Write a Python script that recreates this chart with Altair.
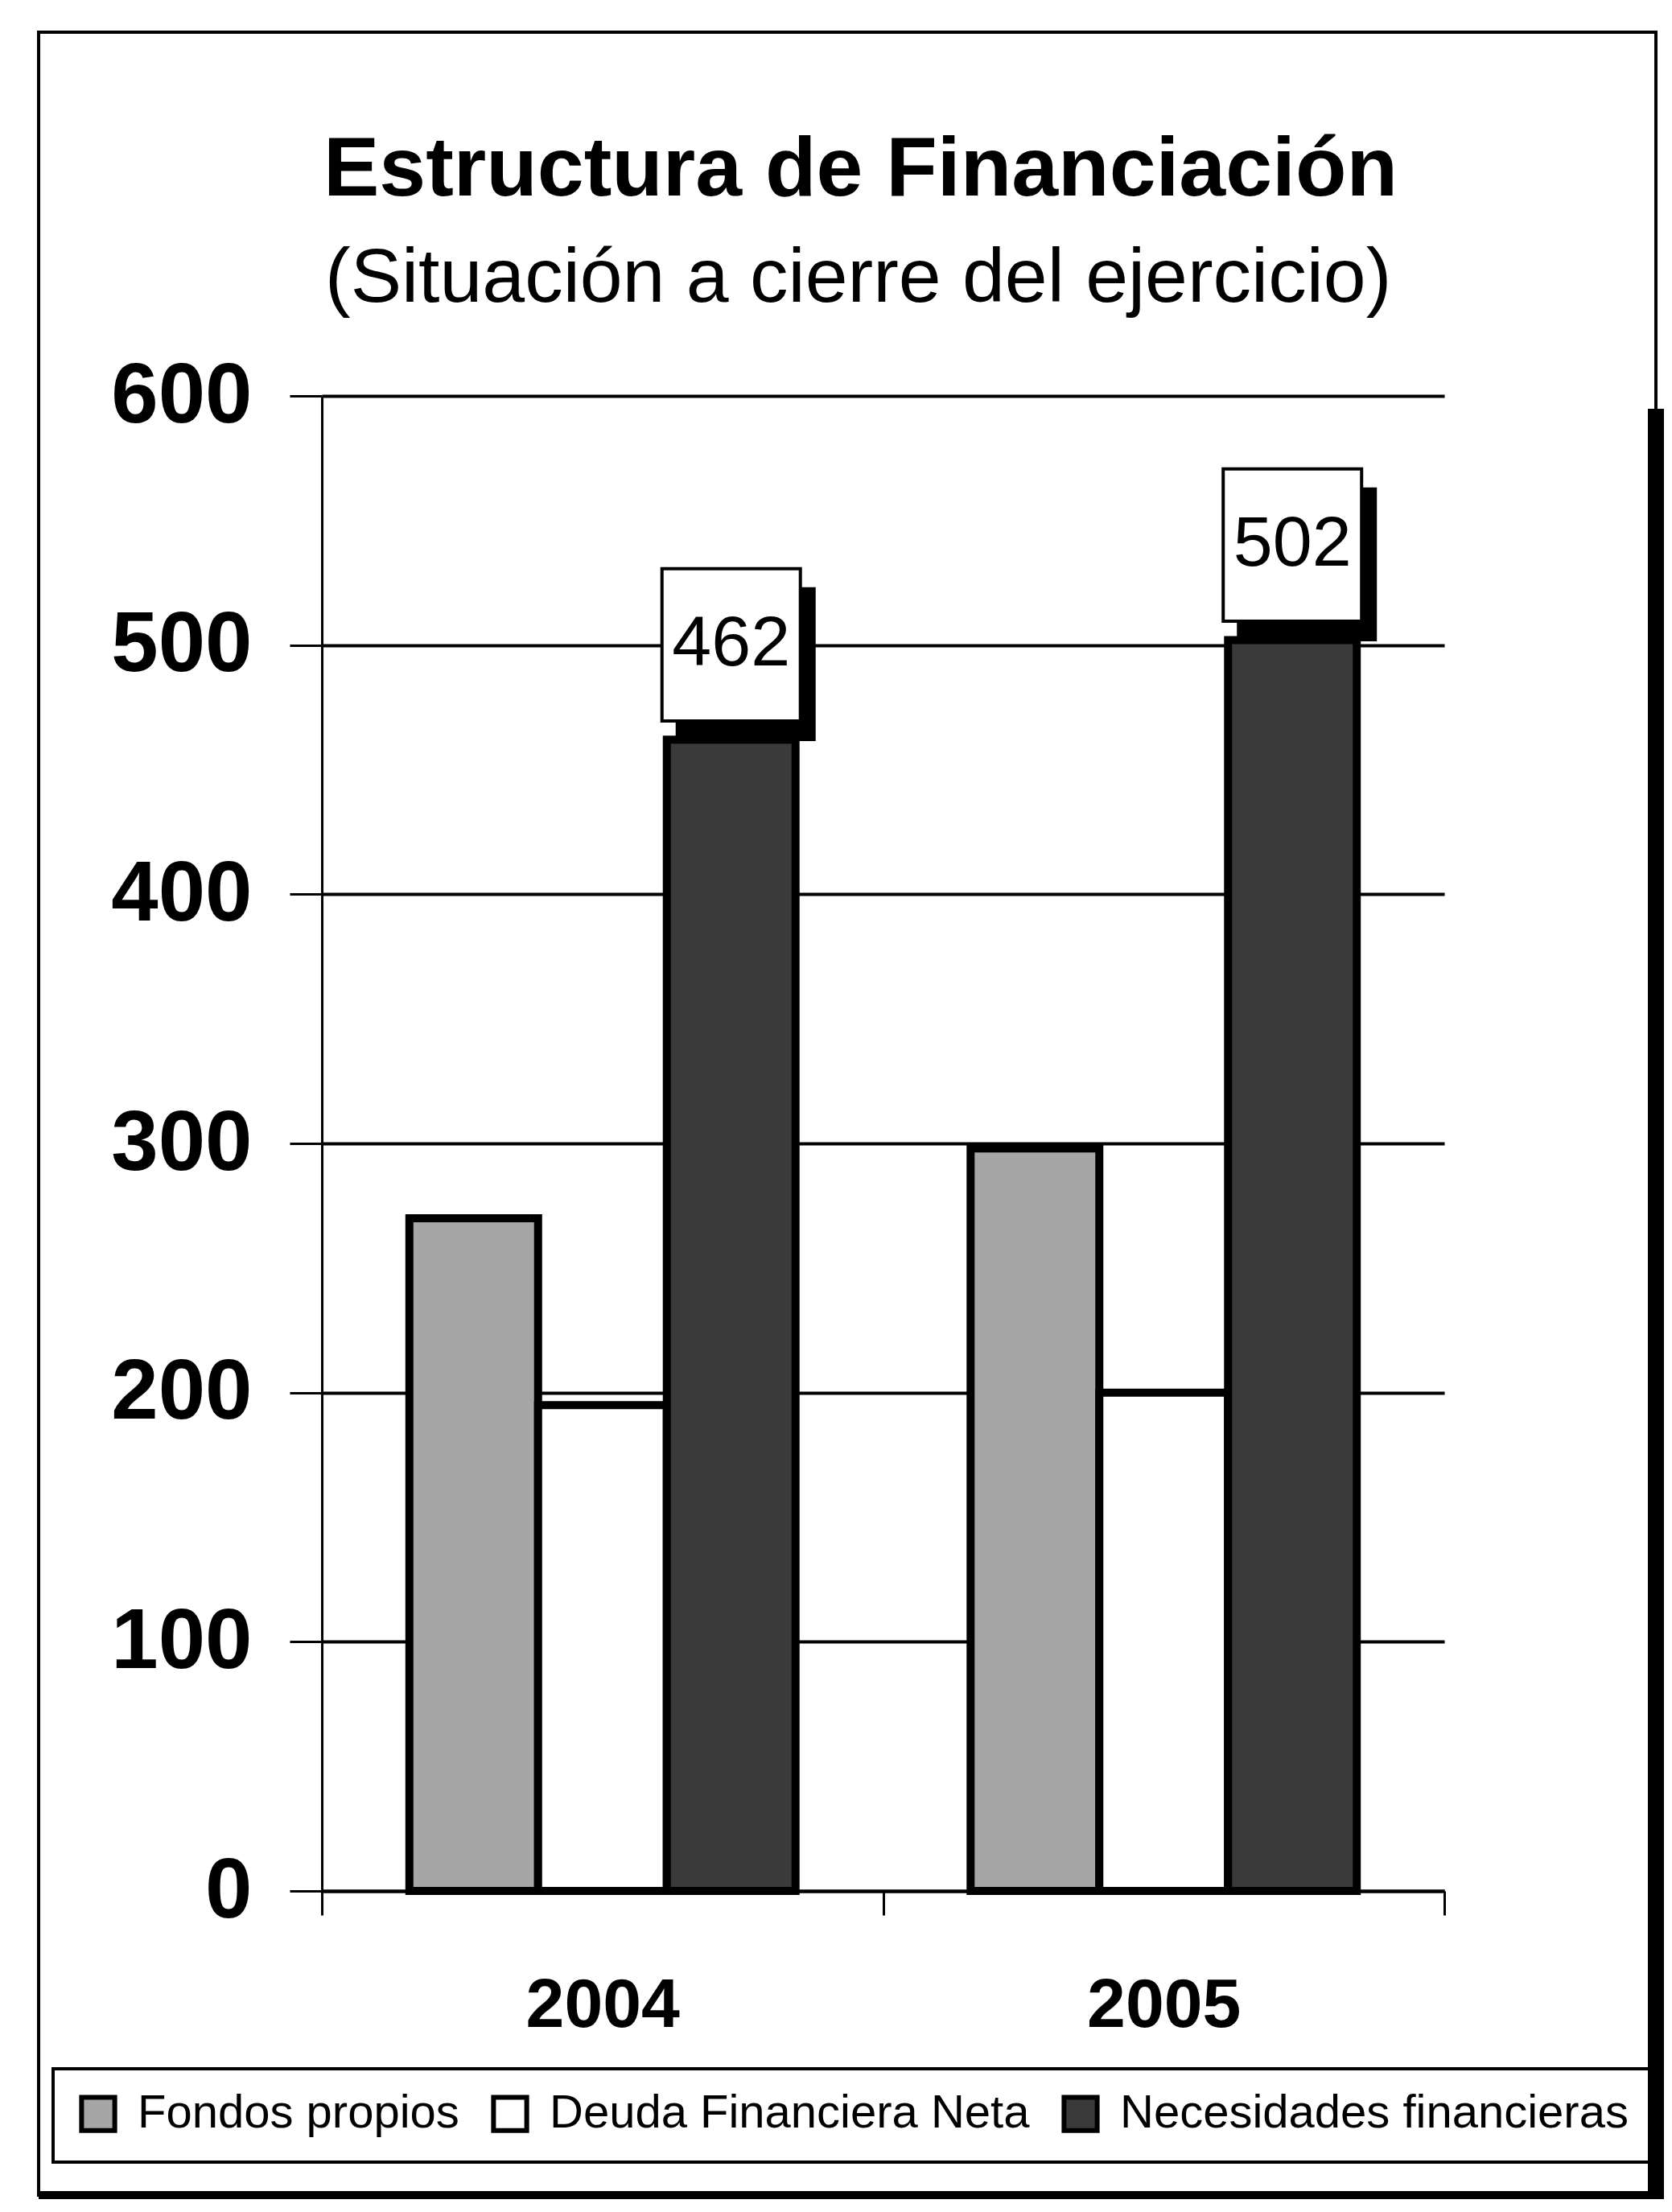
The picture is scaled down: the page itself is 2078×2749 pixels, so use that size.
import altair as alt
import pandas as pd

# ---- data ----
years = ["2004", "2005"]
series = ["Fondos propios", "Deuda Financiera Neta", "Necesidades financieras"]
fondos = [270, 298]
deuda = [195, 200]
necesidades = [462, 502]
colors = ["#a6a6a6", "#ffffff", "#3a3a3a"]
y_ticks = [0, 100, 200, 300, 400, 500, 600]
title_text = "Estructura de Financiación"
subtitle_text = "(Situación a cierre del ejercicio)"

rows = []
for i, yr in enumerate(years):
    for s, vals in zip(series, [fondos, deuda, necesidades]):
        rows.append({"year": yr, "series": s, "value": vals[i]})
df = pd.DataFrame(rows)
labels_df = df[df["series"] == series[2]].reset_index(drop=True)
one = pd.DataFrame({"k": [0]})

FONT = "Liberation Sans, Arial, sans-serif"

# category bands fill the plot (ticks at plot edges and middle, like the original)
x_scale = alt.Scale(domain=years, paddingInner=0, paddingOuter=0)
y_scale = alt.Scale(domain=[0, 600], nice=False, zero=True)
OFF_PAD = 0.68  # outer padding of the series sub-bands inside each year band
NEC_POS = (OFF_PAD + 2.5) / (3 + 2 * OFF_PAD)  # centre of third sub-band

x_enc = alt.X(
    "year:N", sort=years, scale=x_scale,
    axis=alt.Axis(title=None, labelFont=FONT, labelFontSize=86, labelFontWeight="bold",
                  labelColor="black", labelAngle=0, labelPadding=70, labelLimit=0,
                  tickBand="extent", tickSize=30, tickWidth=3, tickColor="black",
                  domainColor="black", domainWidth=4, grid=False),
)
y_enc = alt.Y(
    "value:Q", scale=y_scale,
    axis=alt.Axis(title=None, values=y_ticks, labelFont=FONT, labelFontSize=105,
                  labelFontWeight="bold", labelColor="black", labelPadding=47,
                  labelLimit=0, labelFlush=False, labelOverlap=False, tickSize=40,
                  tickWidth=3, tickColor="black", domainColor="black", domainWidth=3,
                  gridColor="black", gridWidth=4, gridOpacity=1),
)

bars = alt.Chart(df).mark_bar(stroke="black", strokeWidth=10, opacity=1).encode(
    x=x_enc,
    xOffset=alt.XOffset("series:N", sort=series,
                        scale=alt.Scale(domain=series, paddingInner=0, paddingOuter=OFF_PAD)),
    y=y_enc,
    color=alt.Color(
        "series:N", sort=series, scale=alt.Scale(domain=series, range=colors),
        legend=alt.Legend(title=None, orient="none", legendX=-334, legendY=2079,
                          direction="horizontal", columns=3, symbolType="square",
                          symbolSize=1700, symbolStrokeColor="black", symbolStrokeWidth=6,
                          labelFont=FONT, labelFontSize=58, labelColor="black",
                          labelOffset=20, columnPadding=30, padding=27,
                          strokeColor="black", labelLimit=0, symbolOpacity=1),
    ),
)

box_shape = "M-1,-1.1L1,-1.1L1,1.1L-1,1.1Z"
lab_x = alt.X("year:N", sort=years, scale=x_scale, bandPosition=NEC_POS)
lab_y = alt.Y("value:Q", scale=y_scale)

box_shadow = alt.Chart(labels_df).mark_point(
    shape=box_shape, size=172 ** 2, filled=True, fill="black", stroke="black",
    opacity=1, xOffset=18, yOffset=-94,
).encode(x=lab_x, y=lab_y)

box = alt.Chart(labels_df).mark_point(
    shape=box_shape, size=172 ** 2, filled=True, fill="white", stroke="black",
    strokeWidth=4, opacity=1, yOffset=-118,
).encode(x=lab_x, y=lab_y)

box_text = alt.Chart(labels_df).mark_text(
    font=FONT, fontSize=88, color="black", baseline="middle", align="center", yOffset=-118,
).encode(x=lab_x, y=lab_y, text=alt.Text("value:Q"))

title_mark = alt.Chart(one).mark_text(
    text=title_text, font=FONT, fontSize=104, fontWeight="bold", align="left",
    baseline="alphabetic", color="black",
).encode(x=alt.value(2), y=alt.value(-249))

subtitle_mark = alt.Chart(one).mark_text(
    text=subtitle_text, font=FONT, fontSize=95, align="left",
    baseline="alphabetic", color="black",
).encode(x=alt.value(4), y=alt.value(-117))

frame = alt.Chart(one).mark_rect(fillOpacity=0, stroke="black", strokeWidth=4).encode(
    x=alt.value(-352), x2=alt.value(1658), y=alt.value(-452), y2=alt.value(2236)
)
frame_right = alt.Chart(one).mark_rule(color="black", strokeWidth=20).encode(
    x=alt.value(1658), y=alt.value(16), y2=alt.value(2236)
)
frame_bottom = alt.Chart(one).mark_rule(color="black", strokeWidth=10).encode(
    x=alt.value(-352), x2=alt.value(1668), y=alt.value(2236)
)

chart = alt.layer(
    frame, frame_right, frame_bottom, bars, box_shadow, box, box_text, title_mark, subtitle_mark
).properties(
    width=1395, height=1858,
    autosize=alt.AutoSizeParams(type="none"),
    padding={"left": 392, "top": 484, "right": 273, "bottom": 383},
    background="white",
).configure_view(stroke=None).configure_legend(strokeWidth=4)

chart.save("out.html", embed_options={"renderer": "svg", "actions": False})
